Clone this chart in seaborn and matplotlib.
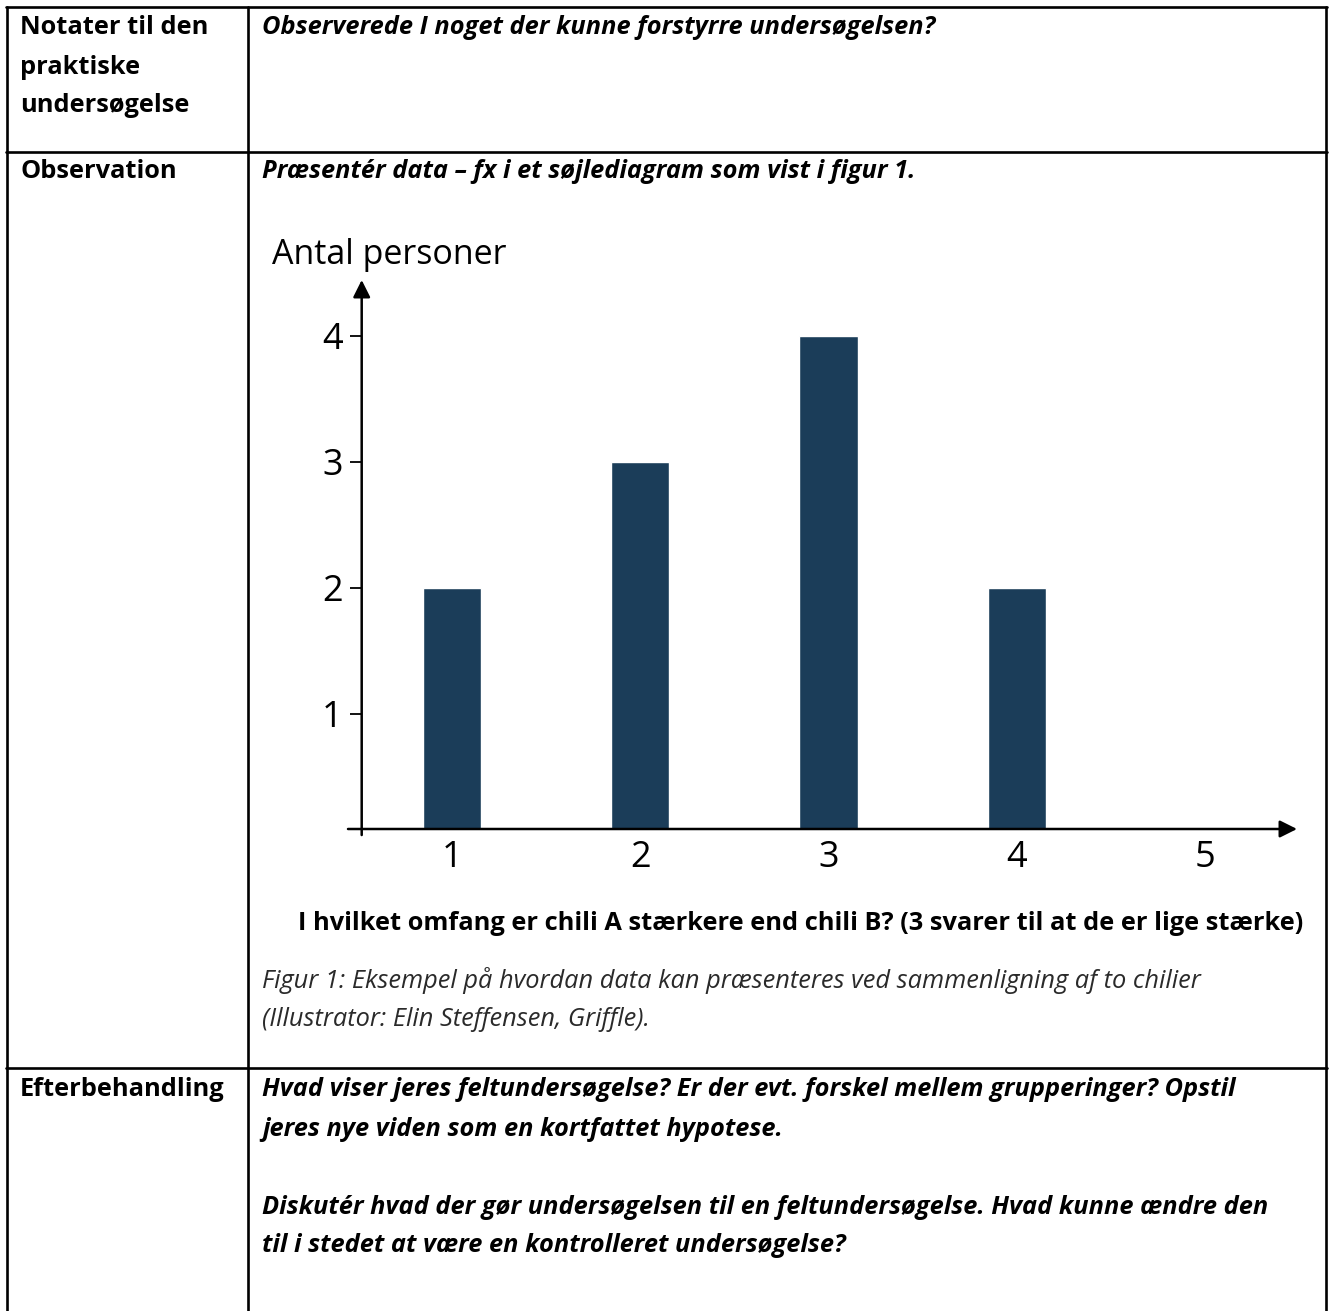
import numpy as np
import matplotlib
matplotlib.use("Agg")
import matplotlib.pyplot as plt
import seaborn as sns
from matplotlib.lines import Line2D

# -----------------------------
# Data
# -----------------------------
scores = ["1", "2", "3", "4", "5"]
persons = [2, 3, 4, 2, 0]
y_ticks = [1, 2, 3, 4]

row_labels = [
    ["Notater til den", "praktiske", "undersøgelse"],
    ["Observation"],
    ["Efterbehandling"],
]
row1_text = "Observerede I noget der kunne forstyrre undersøgelsen?"
row2_text = "Præsentér data – fx i et søjlediagram som vist i figur 1."
y_label = "Antal personer"
x_label = "I hvilket omfang er chili A stærkere end chili B? (3 svarer til at de er lige stærke)"
caption = [
    "Figur 1: Eksempel på hvordan data kan præsenteres ved sammenligning af to chilier",
    "(Illustrator: Elin Steffensen, Griffle).",
]
row3_text = [
    "Hvad viser jeres feltundersøgelse? Er der evt. forskel mellem grupperinger? Opstil",
    "jeres nye viden som en kortfattet hypotese.",
    "",
    "Diskutér hvad der gør undersøgelsen til en feltundersøgelse. Hvad kunne ændre den",
    "til i stedet at være en kontrolleret undersøgelse?",
]

# -----------------------------
# Figure setup
# -----------------------------
sns.set_theme(style="white")
plt.rcParams["font.family"] = ["Open Sans", "DejaVu Sans"]
plt.rcParams["text.color"] = "black"

W, H = 1330, 1311
fig = plt.figure(figsize=(W / 100, H / 100), dpi=100)
fig.patch.set_facecolor("white")


def fx(px):
    return px / W


def fy(py):
    return 1 - py / H


# -----------------------------
# Table grid
# -----------------------------
grid_lw = 1.9
for x0 in [7, 248, 1326]:
    fig.add_artist(Line2D([fx(x0), fx(x0)], [fy(7), fy(H + 5)], color="black", lw=grid_lw))
for y0 in [7, 152, 1068]:
    fig.add_artist(Line2D([fx(6), fx(1327)], [fy(y0), fy(y0)], color="black", lw=grid_lw))

txt_size = 18.3
line_pitch = 39
row_tops = [28, 171, 1090]
for top, lines in zip(row_tops, row_labels):
    for i, s in enumerate(lines):
        fig.text(fx(20), fy(top + i * line_pitch), s, fontsize=txt_size,
                 fontweight="bold", va="center", ha="left")

fig.text(fx(262), fy(row_tops[0]), row1_text, fontsize=txt_size,
         fontweight="bold", style="italic", va="center", ha="left")
fig.text(fx(262), fy(row_tops[1]), row2_text, fontsize=txt_size,
         fontweight="bold", style="italic", va="center", ha="left")
for i, s in enumerate(row3_text):
    if s:
        fig.text(fx(262), fy(row_tops[2] + i * line_pitch), s, fontsize=txt_size,
                 fontweight="bold", style="italic", va="center", ha="left")

fig.text(fx(801), fy(923), x_label, fontsize=txt_size, fontweight="bold",
         va="center", ha="center")
for i, s in enumerate(caption):
    fig.text(fx(262), fy(981 + i * line_pitch), s, fontsize=txt_size,
             style="italic", color="#2a2a2a", va="center", ha="left")

# -----------------------------
# Bar chart
# -----------------------------
ax_l, ax_r, ax_t, ax_b = 348, 1297, 280, 829
ax = fig.add_axes([fx(ax_l), fy(ax_b), fx(ax_r - ax_l), (ax_b - ax_t) / H])
ax.set_facecolor("none")

sns.barplot(x=scores, y=persons, color="#1b3d59", saturation=1, width=0.31,
            ax=ax, zorder=2)

px_per_cat = 188.4
cat0_px = 451.8
ax.set_xlim((ax_l - cat0_px) / px_per_cat, (ax_r - cat0_px) / px_per_cat)
ax.set_ylim(0.087, 4.444)
yaxis_x = (361.7 - cat0_px) / px_per_cat

for side in ["top", "right", "bottom"]:
    ax.spines[side].set_visible(False)
ax.spines["left"].set_position(("data", yaxis_x))
ax.spines["left"].set_visible(False)

arrow = dict(arrowstyle="-|>", color="black", lw=1.8, mutation_scale=26,
             shrinkA=0, shrinkB=0)
ax.annotate("", xy=(1.0, 0.0), xytext=(0.0, 0.0), xycoords="axes fraction",
            arrowprops=arrow, annotation_clip=False)
ax.annotate("", xy=(yaxis_x, 1.0), xytext=(yaxis_x, -0.011),
            xycoords=ax.get_xaxis_transform(), arrowprops=arrow,
            annotation_clip=False)

ax.set_yticks(y_ticks)
ax.set_yticklabels([str(t) for t in y_ticks])
ax.tick_params(axis="y", direction="out", length=8.5, width=1.3, pad=5,
               labelsize=26, colors="black", left=True)
ax.tick_params(axis="x", length=0, pad=8, labelsize=26, colors="black")
ax.set_xlabel("")
ax.set_ylabel("")

fig.text(fx(272), fy(255), y_label, fontsize=24.5, va="center", ha="left")

fig.savefig("out.png", dpi=100, facecolor="white")
